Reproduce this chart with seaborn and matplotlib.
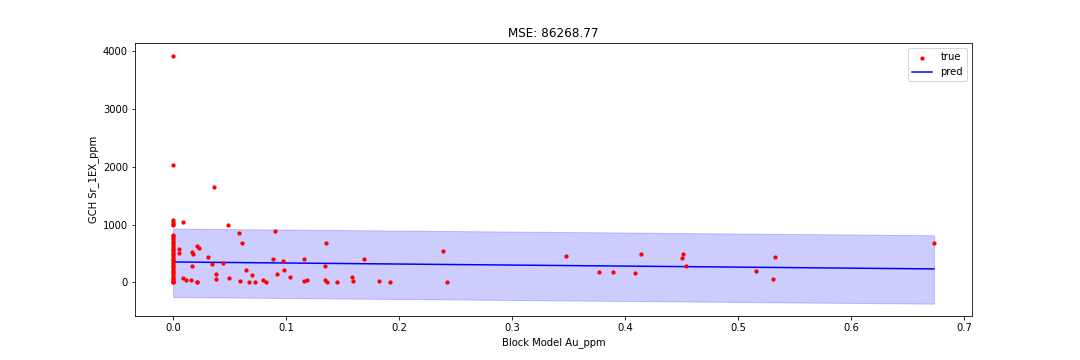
import matplotlib
matplotlib.use("Agg")
import matplotlib.pyplot as plt
import seaborn as sns
import pandas as pd

# True observations (Block Model Au_ppm vs GCH Sr_1EX_ppm)
true_x = [0, 0, 0, 0, 0, 0, 0, 0, 0, 0, 0, 0, 0, 0, 0, 0, 0, 0, 0, 0,
          0, 0, 0, 0, 0, 0, 0, 0, 0, 0, 0, 0, 0, 0, 0, 0, 0,
          0.009, 0.0056, 0.0056, 0.009, 0.0115, 0.0165, 0.018, 0.017, 0.016,
          0.021, 0.023, 0.0215, 0.0215, 0.031, 0.0348, 0.0365, 0.038, 0.038,
          0.0445, 0.049, 0.0498, 0.0586, 0.0595, 0.0613, 0.0648, 0.0674, 0.070,
          0.0727, 0.0798, 0.0825, 0.0904, 0.0887, 0.0975, 0.0984, 0.0922, 0.1037,
          0.116, 0.116, 0.1187, 0.1355, 0.1347, 0.1347, 0.1364, 0.1453, 0.1585,
          0.1594, 0.169, 0.1824, 0.192, 0.239, 0.2425, 0.3476, 0.3768, 0.389,
          0.4086, 0.414, 0.451, 0.450, 0.4537, 0.532, 0.5156, 0.5306, 0.673]
true_y = [3925, 2035, 1075, 1045, 1015, 985, 825, 795, 765, 735, 705, 675,
          645, 615, 585, 555, 525, 495, 465, 435, 405, 380, 350, 320, 290,
          260, 230, 200, 170, 140, 110, 80, 50, 30, 15, 5, 0,
          1040, 585, 515, 80, 35, 520, 485, 290, 46,
          635, 600, 5, 0, 445, 318, 1648, 150, 64,
          342, 1000, 81, 862, 29, 688, 220, 12, 133,
          12, 46, 0, 880, 410, 376, 220, 150, 98,
          410, 29, 46, 672, 290, 46, 12, 0, 98,
          29, 410, 29, 12, 550, 12, 463, 185, 185,
          168, 497, 497, 428, 289, 446, 202, 64, 688]

# Model prediction and +/- band
pred_x = [0.0, 0.673]
pred_y = [352, 232]
band_lo = [-255, -370]
band_hi = [930, 815]

title = "MSE: 86268.77"
xlabel = "Block Model Au_ppm"
ylabel = "GCH Sr_1EX_ppm"

df_true = pd.DataFrame({"x": true_x, "y": true_y})
df_pred = pd.DataFrame({"x": pred_x, "y": pred_y})

fig, ax = plt.subplots(figsize=(15, 5), dpi=72)
fig.subplots_adjust(left=0.125, right=0.9, top=0.88, bottom=0.122)
ax.fill_between(pred_x, band_lo, band_hi, color="blue", alpha=0.2)
sns.scatterplot(data=df_true, x="x", y="y", ax=ax, color="red", s=18,
                linewidth=0, label="true", zorder=3)
sns.lineplot(data=df_pred, x="x", y="y", ax=ax, color="blue", label="pred")
ax.set_title(title, fontsize=12)
ax.set_xlabel(xlabel)
ax.set_ylabel(ylabel)
ax.legend(loc="upper right")
fig.savefig("out.png", dpi=72)
